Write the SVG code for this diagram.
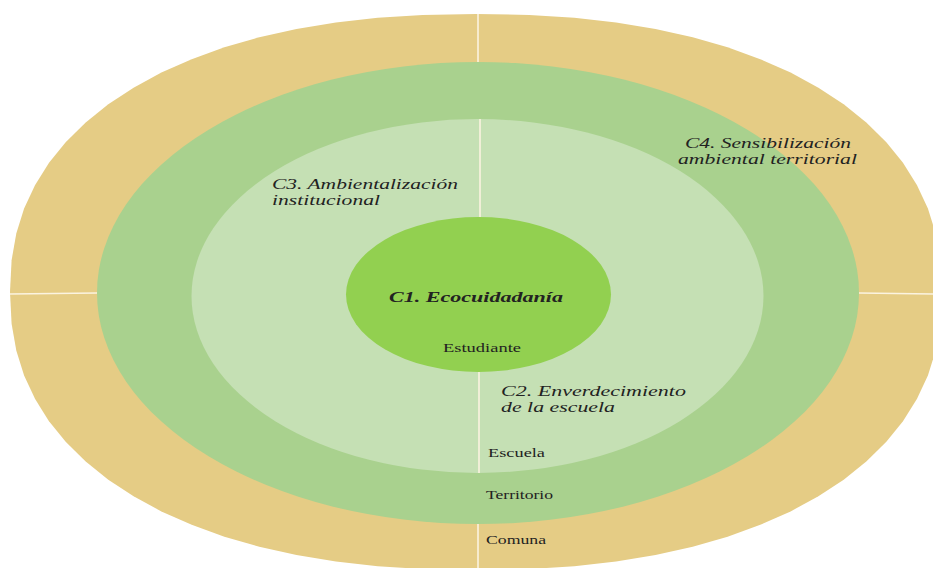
<svg xmlns="http://www.w3.org/2000/svg" width="933" height="568" viewBox="0 0 933 568">
<style>
.lbl{font-family:"Liberation Serif","Times New Roman",serif;font-style:italic;font-size:14.5px;fill:#222}
.sm{font-family:"Liberation Serif","Times New Roman",serif;font-size:12.5px;fill:#222}
.sep{stroke:#fbf3e0;stroke-width:1.6;fill:none}
</style>
<rect width="933" height="568" fill="#fff"/>
<g id="comuna"><path transform="translate(476 292)" fill="#E5CC85" d="M466,0 L464.4,31.8 459.7,58.6 451.9,83.6 440.9,107.1 427.0,129.3 410.1,150.1 390.3,169.6 367.7,187.7 342.4,204.3 314.6,219.4 284.3,232.8 251.6,244.7 216.7,254.7 179.5,263.0 140.1,269.6 98.3,274.2 53.3,277.1 0,278 -53.3,277.1 -98.3,274.2 -140.1,269.6 -179.5,263.0 -216.7,254.7 -251.6,244.7 -284.3,232.8 -314.6,219.4 -342.4,204.3 -367.7,187.7 -390.3,169.6 -410.1,150.1 -427.0,129.3 -440.9,107.1 -451.9,83.6 -459.7,58.6 -464.4,31.8 -466,0 -464.4,-31.8 -459.7,-58.6 -451.9,-83.6 -440.9,-107.1 -427.0,-129.3 -410.1,-150.1 -390.3,-169.6 -367.7,-187.7 -342.4,-204.3 -314.6,-219.4 -284.3,-232.8 -251.6,-244.7 -216.7,-254.7 -179.5,-263.0 -140.1,-269.6 -98.3,-274.2 -53.3,-277.1 0,-278 53.3,-277.1 98.3,-274.2 140.1,-269.6 179.5,-263.0 216.7,-254.7 251.6,-244.7 284.3,-232.8 314.6,-219.4 342.4,-204.3 367.7,-187.7 390.3,-169.6 410.1,-150.1 427.0,-129.3 440.9,-107.1 451.9,-83.6 459.7,-58.6 464.4,-31.8 Z"/></g>
<g id="territorio"><ellipse cx="478" cy="293" rx="381" ry="231" fill="#A9D18E"/></g>
<g id="escuela"><ellipse cx="477.5" cy="296" rx="286" ry="177" fill="#C5E0B4"/></g>
<g id="estudiante"><ellipse cx="478.5" cy="294.5" rx="132.5" ry="77.5" fill="#92D050"/></g>
<g id="connectors">
<line class="sep" x1="478" y1="14" x2="478" y2="62"/>
<line class="sep" x1="480" y1="119" x2="480" y2="217"/>
<line class="sep" x1="479" y1="372" x2="479" y2="473"/>
<line class="sep" x1="478" y1="524" x2="478" y2="568"/>
<line class="sep" x1="10" y1="294" x2="97" y2="293"/>
<line class="sep" x1="859" y1="293" x2="933" y2="294"/>
</g>
<g id="labels">
<text class="lbl" x="389" y="302" font-weight="bold" font-size="17" textLength="174" lengthAdjust="spacingAndGlyphs">C1. Ecocuidadanía</text>
<text class="sm" x="443" y="352" textLength="78" lengthAdjust="spacingAndGlyphs">Estudiante</text>
<text class="lbl" x="272" y="189" textLength="186" lengthAdjust="spacingAndGlyphs">C3. Ambientalización</text>
<text class="lbl" x="272" y="205" textLength="108" lengthAdjust="spacingAndGlyphs">institucional</text>
<text class="lbl" x="685" y="148" textLength="166" lengthAdjust="spacingAndGlyphs">C4. Sensibilización</text>
<text class="lbl" x="678" y="164" textLength="179" lengthAdjust="spacingAndGlyphs">ambiental territorial</text>
<text class="lbl" x="501" y="396" textLength="185" lengthAdjust="spacingAndGlyphs">C2. Enverdecimiento</text>
<text class="lbl" x="501" y="412" textLength="114" lengthAdjust="spacingAndGlyphs">de la escuela</text>
<text class="sm" x="488" y="457" textLength="57" lengthAdjust="spacingAndGlyphs">Escuela</text>
<text class="sm" x="486" y="499" textLength="67" lengthAdjust="spacingAndGlyphs">Territorio</text>
<text class="sm" x="486" y="544" textLength="60" lengthAdjust="spacingAndGlyphs">Comuna</text>
</g>
</svg>
